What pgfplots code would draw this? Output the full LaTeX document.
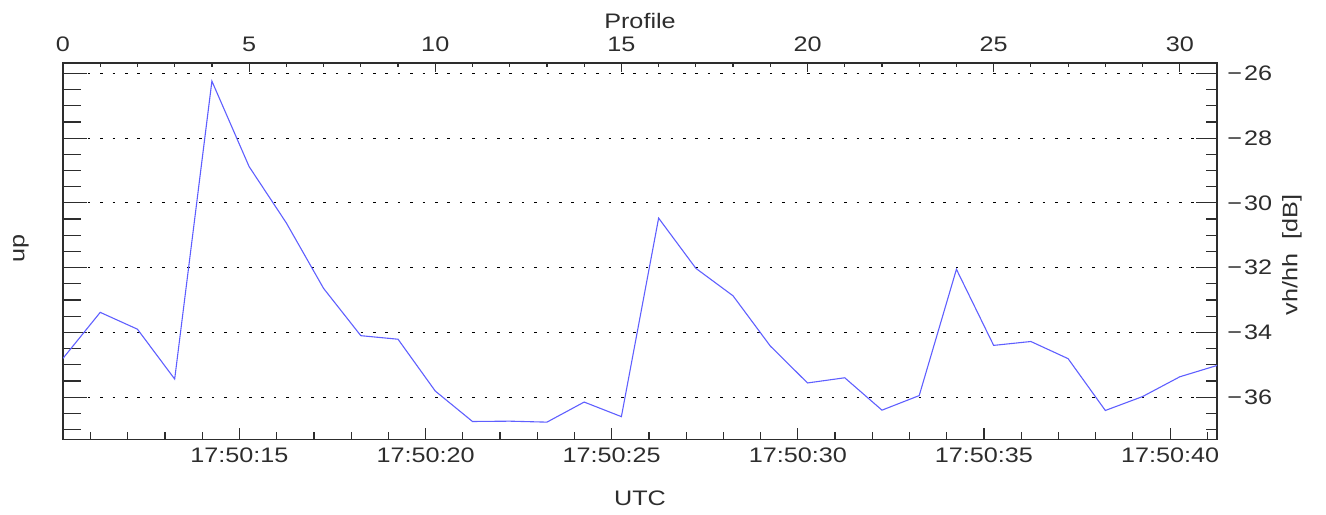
\documentclass[border=0pt]{standalone}
\usepackage{fontspec}
\setmainfont{Liberation Sans}[FakeStretch=1.2]
\usepackage{pgfplots}
\pgfplotsset{compat=1.18}
\definecolor{trace}{RGB}{95,95,255}
\definecolor{ink}{RGB}{45,45,45}

\pgfplotsset{
  base/.style={
    width=577pt, height=188.15pt, scale only axis,
    at={(0,0)}, anchor=south west,
    xmin=0, xmax=31, ymin=-37.3, ymax=-25.68,
    axis line style={ink, line width=0.6pt},
    every tick/.style={ink, line width=0.6pt},
    tick align=inside,
    font=\fontsize{10.5}{12}\selectfont,
    /pgf/number format/assume math mode=true,
    ticklabel style={text=ink},
    label style={text=ink},
    xtick=\empty, ytick=\empty,
  },
}

\begin{document}
\begin{tikzpicture}
% right axis: dB ticks and dotted grid
\begin{axis}[base,
  ytick={-36,-34,...,-26},
  yticklabels={−\kern1pt36,−\kern1pt34,−\kern1pt32,−\kern1pt30,−\kern1pt28,−\kern1pt26},
  minor ytick={-37,-36.5,...,-25.5},
  ytick pos=right, yticklabel pos=right,
  major tick length=10.5pt, minor tick length=5.5pt,
  yticklabel style={anchor=west, inner sep=0pt, xshift=5pt},
  ymajorgrids,
  grid style={black, line width=0.6pt, dash pattern=on 1.3pt off 4.9pt},
  ylabel={vh/hh\ \ [dB]},
  ylabel style={at={(axis description cs:1.065,0.49)}, anchor=center, rotate=0},
]
\end{axis}
% bottom axis: UTC
\begin{axis}[base,
  xtick={4.74,9.74,14.74,19.74,24.74,29.74},
  xticklabels={17:50:15,17:50:20,17:50:25,17:50:30,17:50:35,17:50:40},
  minor xtick={0.74,1.74,2.74,3.74,5.74,6.74,7.74,8.74,10.74,11.74,12.74,13.74,15.74,16.74,17.74,18.74,20.74,21.74,22.74,23.74,25.74,26.74,27.74,28.74,30.74},
  xtick pos=left, xticklabel pos=left,
  major tick length=5.5pt, minor tick length=3.5pt,
  xticklabel style={anchor=base, yshift=-11.7pt},
  xlabel={UTC},
  xlabel style={at={(axis description cs:0.5,-0.1765)}, anchor=base},
]
\end{axis}
% left axis
\begin{axis}[base,
  ytick={-36,-34,...,-26}, yticklabels={},
  minor ytick={-37,-36.5,...,-25.5},
  ytick pos=left,
  major tick length=12pt, minor tick length=8.8pt,
  ylabel={up},
  ylabel style={at={(axis description cs:-0.0364,0.508)}, anchor=center},
]
\end{axis}
% top axis: Profile, and the data
\begin{axis}[base,
  xtick={0,5,...,30},
  minor xtick={0,1,...,31},
  xtick pos=right, xticklabel pos=right,
  major tick length=4.5pt, minor tick length=2.1pt,
  xticklabel style={anchor=base, yshift=5.5pt},
  xlabel={Profile},
  xlabel style={at={(axis description cs:0.5,1.0904)}, anchor=base},
]
\addplot[trace, line width=0.55pt] coordinates {
  (0,-34.80) (1,-33.38) (2,-33.90) (3,-35.44) (4,-26.24) (5,-28.88)
  (6,-30.62) (7,-32.64) (8,-34.10) (9,-34.21) (10,-35.81) (11,-36.75)
  (12,-36.74) (13,-36.77) (14,-36.15) (15,-36.60) (16,-30.47) (17,-32.02)
  (18,-32.87) (19,-34.42) (20,-35.56) (21,-35.40) (22,-36.40) (23,-35.95)
  (24,-32.05) (25,-34.40) (26,-34.28) (27,-34.81) (28,-36.41) (29,-35.98)
  (30,-35.37) (31,-35.02)
};
\coordinate (sw) at (rel axis cs:0,0);
\coordinate (ne) at (rel axis cs:1,1);
\end{axis}
\pgfresetboundingbox
\path[use as bounding box] ([xshift=-31.5pt,yshift=-37.35pt]sw) rectangle ([xshift=54.5pt,yshift=31.5pt]ne);
\end{tikzpicture}
\end{document}
